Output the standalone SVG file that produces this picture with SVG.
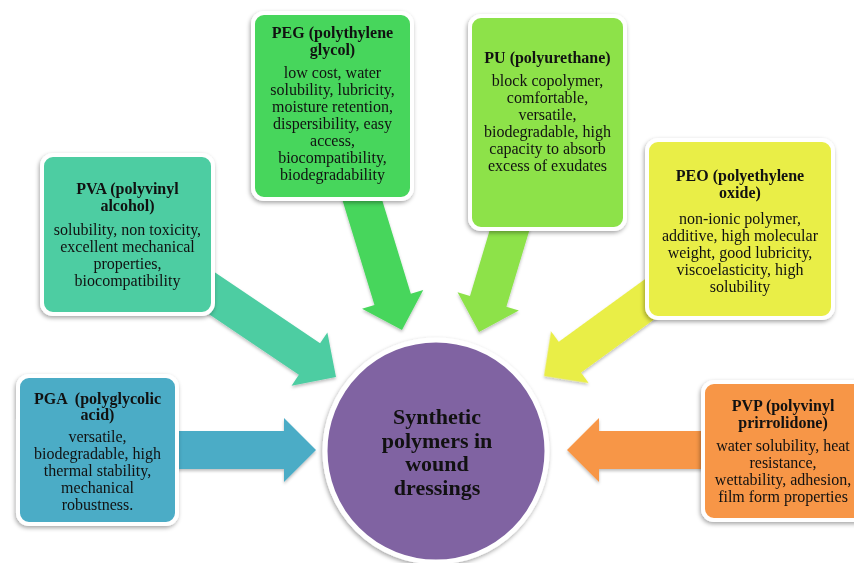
<svg xmlns="http://www.w3.org/2000/svg" width="854" height="563" viewBox="0 0 854 563">
<defs>
<filter id="sh" x="-20%" y="-20%" width="140%" height="140%">
<feDropShadow dx="-1" dy="2" stdDeviation="2" flood-color="#000" flood-opacity="0.35"/>
</filter>
<filter id="ash" x="-20%" y="-20%" width="140%" height="140%">
<feDropShadow dx="0" dy="2" stdDeviation="1.5" flood-color="#000" flood-opacity="0.25"/>
</filter>
<path id="arr" d="M-160,-19 L-32,-19 L-32,-32 L0,0 L-32,32 L-32,19 L-160,19 Z"/>
</defs>
<style>
.box{stroke:#fff;stroke-width:4;filter:url(#sh)}
.t{font-family:"Liberation Serif","Times New Roman",serif;font-size:16px;font-weight:bold;fill:#111;text-anchor:middle}
.b{font-family:"Liberation Serif","Times New Roman",serif;font-size:16px;fill:#111;text-anchor:middle}
.c{font-family:"Liberation Serif","Times New Roman",serif;font-size:22px;font-weight:bold;fill:#111;text-anchor:middle}
</style>
<rect width="854" height="563" fill="#fff"/>
<g id="connectors" filter="url(#ash)">
<use href="#arr" fill="#4BACC6" transform="translate(316,450)"/>
<use href="#arr" fill="#F79646" transform="translate(567,450) rotate(180)"/>
<use href="#arr" fill="#4ECDA2" transform="translate(336,377) rotate(34)"/>
<use href="#arr" fill="#47D65B" transform="translate(402,330) rotate(73)"/>
<use href="#arr" fill="#8DE24A" transform="translate(479,332) rotate(106.7)"/>
<use href="#arr" fill="#E9EE46" transform="translate(544,376) rotate(144)"/>
</g>
<g id="center">
<circle cx="436" cy="451" r="111" fill="#8064A2" stroke="#fff" stroke-width="5" filter="url(#sh)"/>
<text class="c" x="437" y="424">Synthetic</text>
<text class="c" x="437" y="447.5">polymers in</text>
<text class="c" x="437" y="471">wound</text>
<text class="c" x="437" y="494.5">dressings</text>
</g>
<g id="pga">
<rect class="box" x="18" y="376" width="159" height="148" rx="11" fill="#4BACC6"/>
<text class="t" x="97.5" y="404" xml:space="preserve">PGA  (polyglycolic</text>
<text class="t" x="97.5" y="420">acid)</text>
<text class="b" x="97.5" y="442">versatile,</text>
<text class="b" x="97.5" y="459">biodegradable, high</text>
<text class="b" x="97.5" y="476">thermal stability,</text>
<text class="b" x="97.5" y="493">mechanical</text>
<text class="b" x="97.5" y="510">robustness.</text>
</g>
<g id="pva">
<rect class="box" x="42" y="155" width="171" height="159" rx="11" fill="#4ECDA2"/>
<text class="t" x="127.5" y="194">PVA (polyvinyl</text>
<text class="t" x="127.5" y="211">alcohol)</text>
<text class="b" x="127.5" y="235">solubility, non toxicity,</text>
<text class="b" x="127.5" y="252">excellent mechanical</text>
<text class="b" x="127.5" y="269">properties,</text>
<text class="b" x="127.5" y="286">biocompatibility</text>
</g>
<g id="peg">
<rect class="box" x="253" y="13" width="159" height="186" rx="11" fill="#47D65B"/>
<text class="t" x="332.5" y="38">PEG (polythylene</text>
<text class="t" x="332.5" y="55">glycol)</text>
<text class="b" x="332.5" y="78">low cost, water</text>
<text class="b" x="332.5" y="95">solubility, lubricity,</text>
<text class="b" x="332.5" y="112">moisture retention,</text>
<text class="b" x="332.5" y="129">dispersibility, easy</text>
<text class="b" x="332.5" y="146">access,</text>
<text class="b" x="332.5" y="163">biocompatibility,</text>
<text class="b" x="332.5" y="180">biodegradability</text>
</g>
<g id="pu">
<rect class="box" x="470" y="16" width="155" height="213" rx="11" fill="#8DE24A"/>
<text class="t" x="547.5" y="63">PU (polyurethane)</text>
<text class="b" x="547.5" y="85.5">block copolymer,</text>
<text class="b" x="547.5" y="102.5">comfortable,</text>
<text class="b" x="547.5" y="119.5">versatile,</text>
<text class="b" x="547.5" y="136.5">biodegradable, high</text>
<text class="b" x="547.5" y="153.5">capacity to absorb</text>
<text class="b" x="547.5" y="170.5">excess of exudates</text>
</g>
<g id="peo">
<rect class="box" x="647" y="140" width="186" height="178" rx="11" fill="#E9EE46"/>
<text class="t" x="740" y="181">PEO (polyethylene</text>
<text class="t" x="740" y="198">oxide)</text>
<text class="b" x="740" y="224">non-ionic polymer,</text>
<text class="b" x="740" y="241">additive, high molecular</text>
<text class="b" x="740" y="258">weight, good lubricity,</text>
<text class="b" x="740" y="275">viscoelasticity, high</text>
<text class="b" x="740" y="292">solubility</text>
</g>
<g id="pvp">
<rect class="box" x="703" y="382" width="170" height="138" rx="11" fill="#F79646"/>
<text class="t" x="783" y="411">PVP (polyvinyl</text>
<text class="t" x="783" y="428">prirrolidone)</text>
<text class="b" x="783" y="451">water solubility, heat</text>
<text class="b" x="783" y="468">resistance,</text>
<text class="b" x="783" y="485">wettability, adhesion,</text>
<text class="b" x="783" y="502">film form properties</text>
</g>
</svg>
